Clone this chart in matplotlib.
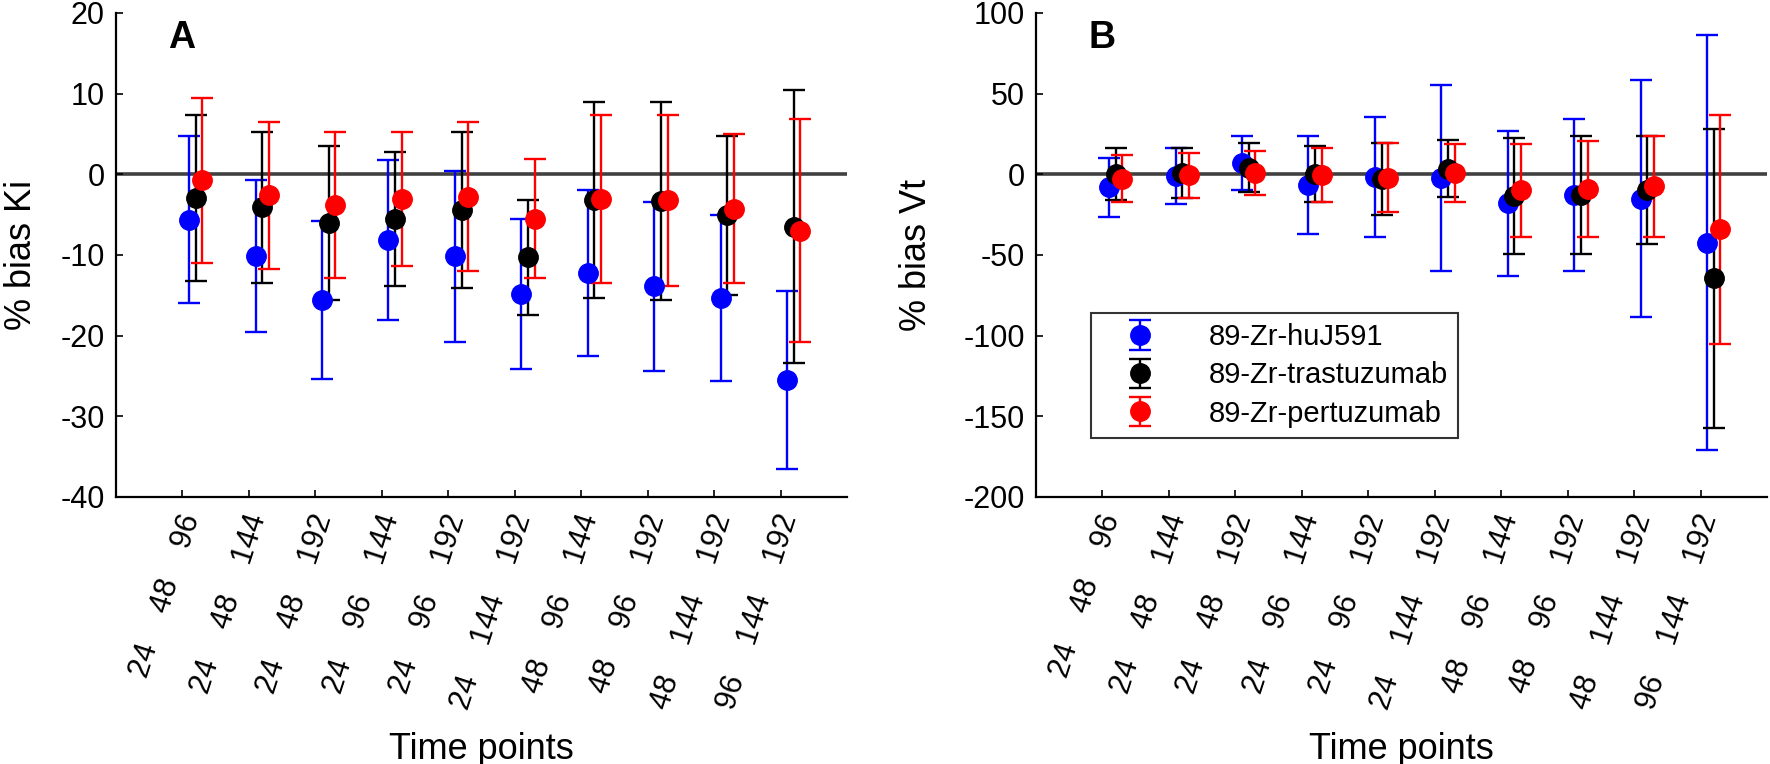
import numpy as np
import matplotlib
matplotlib.use("Agg")
import matplotlib.pyplot as plt
import matplotlib.transforms as mtransforms

plt.rcParams['font.family'] = ['Liberation Sans', 'DejaVu Sans']
plt.rcParams['axes.unicode_minus'] = False

# time point combinations for each x position
time_sets = [["24", "48", "96"], ["24", "48", "144"], ["24", "48", "192"],
             ["24", "96", "144"], ["24", "96", "192"], ["24", "144", "192"],
             ["48", "96", "144"], ["48", "96", "192"], ["48", "144", "192"],
             ["96", "144", "192"]]
series_names = ["89-Zr-huJ591", "89-Zr-trastuzumab", "89-Zr-pertuzumab"]
series_colors = ["#0000ff", "#000000", "#ff0000"]
x_shift = [0.1, 0.2, 0.3]

# panel A: % bias Ki (mean, sd)
ki_huj591 = [-5.6, -10.1, -15.55, -8.15, -10.15, -14.85, -12.2, -13.9, -15.3, -25.5]
ki_huj591_sd = [10.3, 9.4, 9.8, 9.9, 10.6, 9.3, 10.3, 10.5, 10.3, 11.0]
ki_trast = [-2.9, -4.1, -6.05, -5.5, -4.4, -10.3, -3.15, -3.3, -5.1, -6.5]
ki_trast_sd = [10.3, 9.4, 9.55, 8.3, 9.7, 7.1, 12.15, 12.3, 9.9, 16.9]
ki_pert = [-0.75, -2.6, -3.75, -3.05, -2.75, -5.5, -3.05, -3.2, -4.25, -7.0]
ki_pert_sd = [10.25, 9.1, 9.05, 8.35, 9.25, 7.4, 10.45, 10.6, 9.25, 13.8]

# panel B: % bias Vt (mean, sd)
vt_huj591 = [-8.0, -1.1, 6.9, -6.65, -1.45, -2.05, -18.05, -12.65, -15.15, -42.3]
vt_huj591_sd = [18.3, 17.4, 16.8, 30.35, 37.25, 57.65, 44.75, 47.05, 73.55, 128.5]
vt_trast = [0.15, 0.95, 4.2, 0.2, -2.8, 3.5, -13.5, -12.85, -9.75, -64.4]
vt_trast_sd = [16.15, 15.35, 15.1, 17.3, 22.1, 17.5, 35.9, 36.55, 33.45, 92.6]
vt_pert = [-2.7, -0.6, 0.9, -0.4, -2.0, 0.9, -9.9, -9.05, -7.5, -34.05]
vt_pert_sd = [14.4, 13.8, 13.5, 16.7, 21.3, 18.0, 28.8, 29.65, 31.2, 71.05]

gap = "    "
tick_labels = [gap.join(t) for t in time_sets]
x = np.arange(1, len(time_sets) + 1)

fig = plt.figure(figsize=(17.7, 7.64), dpi=100)
axA = fig.add_axes([116 / 1770, 1 - 497 / 764, 731 / 1770, 484 / 764])
axB = fig.add_axes([1036 / 1770, 1 - 497 / 764, 731 / 1770, 484 / 764])

panels = [
    (axA, [(ki_huj591, ki_huj591_sd), (ki_trast, ki_trast_sd), (ki_pert, ki_pert_sd)],
     (-40, 20), np.arange(-40, 21, 10), "% bias Ki", "A"),
    (axB, [(vt_huj591, vt_huj591_sd), (vt_trast, vt_trast_sd), (vt_pert, vt_pert_sd)],
     (-200, 100), np.arange(-200, 101, 50), "% bias Vt", "B"),
]

for ax, data, ylim, yticks, ylab, letter in panels:
    ax.axhline(0, color="#404040", lw=2.6, zorder=1)
    handles = []
    for (m, s), col, dx, name in zip(data, series_colors, x_shift, series_names):
        h = ax.errorbar(x + dx, m, yerr=s, fmt="o", color=col, ms=14,
                        markeredgecolor=col, elinewidth=1.7, capsize=8,
                        capthick=1.7, label=name, zorder=3)
        handles.append(h)
    ax.set_xlim(0, 11)
    ax.set_ylim(*ylim)
    ax.set_yticks(yticks)
    ax.set_xticks(x)
    ax.tick_params(axis="x", direction="in", length=5, width=1.2, pad=0)
    ax.tick_params(axis="y", direction="in", length=5, width=1.2, labelsize=22, pad=8)
    ax.set_xticklabels(tick_labels, rotation=72, ha="right", va="center",
                       rotation_mode="anchor", fontsize=22)
    off = mtransforms.ScaledTranslation(0.09, -0.18, fig.dpi_scale_trans)
    for lab in ax.get_xticklabels():
        lab.set_transform(lab.get_transform() + off)
    for side in ["top", "right"]:
        ax.spines[side].set_visible(False)
    for side in ["left", "bottom"]:
        ax.spines[side].set_linewidth(1.6)
    ax.set_ylabel(ylab, fontsize=26)
    ax.set_xlabel("Time points", fontsize=26)
    ax.xaxis.set_label_coords(0.5, -0.485)
    ax.text(0.09, 0.948, letter, transform=ax.transAxes, fontsize=27,
            fontweight="bold", ha="center", va="center")

axA.yaxis.set_label_coords(-0.105, 0.5)
axB.yaxis.set_label_coords(-0.14, 0.5)

leg = axB.legend(handles=handles, loc="upper left", bbox_to_anchor=(0.075, 0.38),
                 fontsize=21, frameon=True, fancybox=False, edgecolor="black",
                 handlelength=2.7, handletextpad=1.0, labelspacing=0.35,
                 borderpad=0.35, borderaxespad=0)
leg.get_frame().set_linewidth(1.5)

fig.savefig("out.png", dpi=100)
